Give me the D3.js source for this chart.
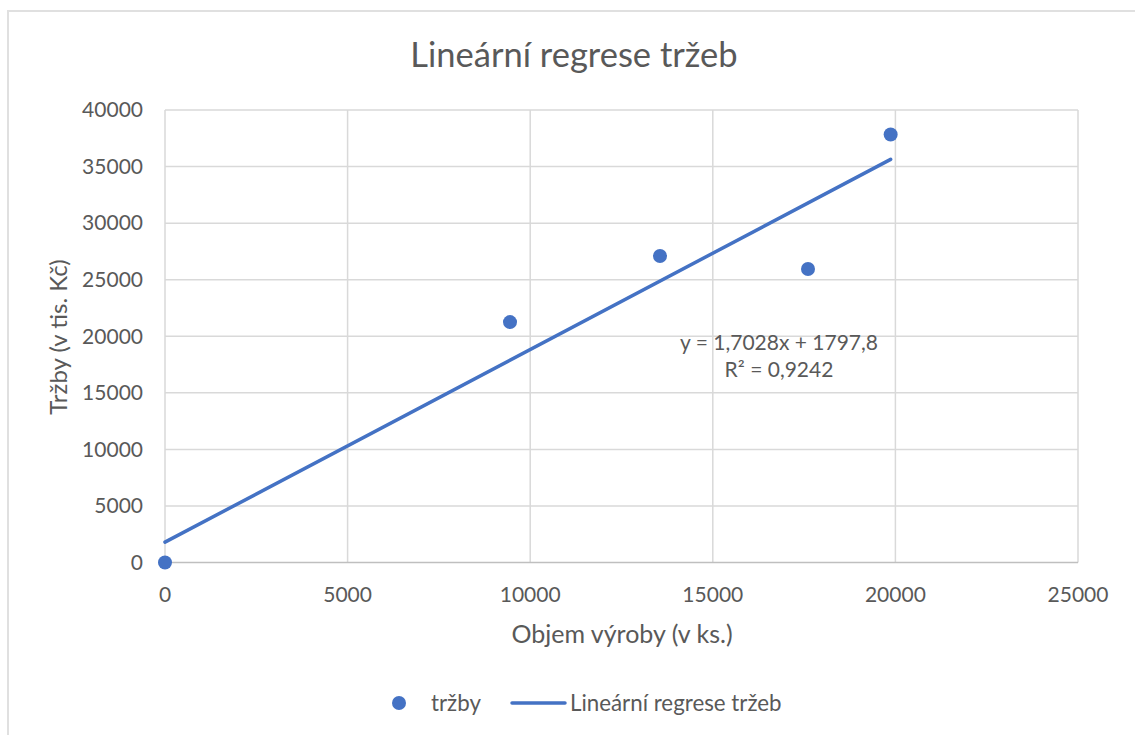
<!DOCTYPE html>
<html>
<head>
<meta charset="utf-8">
<script src="https://cdn.jsdelivr.net/npm/d3@7"></script>
<style>
  body { margin: 0; background: #fff; }
  svg { display: block; font-family: Lato, "Open Sans", sans-serif; }
</style>
</head>
<body>
<div id="chart"></div>
<script>
// data
const objem = [0, 9447, 13554, 17607, 19870];
const trzby = [0, 21250, 27100, 25950, 37830];
const slope = 1.7028;
const intercept = 1797.8;
const xTicks = [0, 5000, 10000, 15000, 20000, 25000];
const yTicks = [0, 5000, 10000, 15000, 20000, 25000, 30000, 35000, 40000];
const eqLines = ["y = 1,7028x + 1797,8", "R² = 0,9242"];

const W = 1135, H = 735;
const plot = { left: 165, right: 1078, top: 110, bottom: 562.5 };
const textColor = "#595959";
const blue = "#4472c4";

const svg = d3.select("#chart").append("svg")
    .attr("width", W)
    .attr("height", H);

// chart border
svg.append("rect")
    .attr("x", 8).attr("y", 11)
    .attr("width", W + 20).attr("height", H + 20)
    .attr("fill", "#fff")
    .attr("stroke", "#e0e0e0")
    .attr("stroke-width", 2);

const x = d3.scaleLinear().domain([0, 25000]).range([plot.left, plot.right]);
const y = d3.scaleLinear().domain([0, 40000]).range([plot.bottom, plot.top]);

// gridlines
svg.append("g")
    .selectAll("line.h")
    .data(yTicks.filter(d => d !== 0))
    .join("line")
    .attr("x1", plot.left).attr("x2", plot.right)
    .attr("y1", d => y(d)).attr("y2", d => y(d))
    .attr("stroke", "#d9d9d9")
    .attr("stroke-width", 1.5);

svg.append("g")
    .selectAll("line.v")
    .data(xTicks)
    .join("line")
    .attr("y1", plot.top).attr("y2", plot.bottom)
    .attr("x1", d => x(d)).attr("x2", d => x(d))
    .attr("stroke", "#d9d9d9")
    .attr("stroke-width", 1.5);

// x axis baseline
svg.append("line")
    .attr("x1", plot.left).attr("x2", plot.right)
    .attr("y1", y(0)).attr("y2", y(0))
    .attr("stroke", "#bfbfbf")
    .attr("stroke-width", 1.5);

// tick labels
svg.append("g")
    .selectAll("text")
    .data(yTicks)
    .join("text")
    .attr("x", 143)
    .attr("y", d => y(d))
    .attr("dy", "0.35em")
    .attr("text-anchor", "end")
    .attr("font-size", 21)
    .attr("fill", textColor)
    .text(d => d);

svg.append("g")
    .selectAll("text")
    .data(xTicks)
    .join("text")
    .attr("x", d => x(d))
    .attr("y", 595)
    .attr("dy", "0.35em")
    .attr("text-anchor", "middle")
    .attr("font-size", 21)
    .attr("fill", textColor)
    .text(d => d);

// titles
svg.append("text")
    .attr("x", 574).attr("y", 55)
    .attr("dy", "0.35em")
    .attr("text-anchor", "middle")
    .attr("font-size", 34.5)
    .attr("fill", textColor)
    .text("Lineární regrese tržeb");

svg.append("text")
    .attr("x", 622).attr("y", 634)
    .attr("dy", "0.35em")
    .attr("text-anchor", "middle")
    .attr("font-size", 25)
    .attr("fill", textColor)
    .text("Objem výroby (v ks.)");

svg.append("text")
    .attr("transform", "translate(59,337) rotate(-90)")
    .attr("dy", "0.35em")
    .attr("text-anchor", "middle")
    .attr("font-size", 24)
    .attr("fill", textColor)
    .text("Tržby (v tis. Kč)");

// regression line
const xMin = d3.min(objem), xMax = d3.max(objem);
svg.append("line")
    .attr("x1", x(xMin)).attr("y1", y(slope * xMin + intercept))
    .attr("x2", x(xMax)).attr("y2", y(slope * xMax + intercept))
    .attr("stroke", blue)
    .attr("stroke-width", 3.5)
    .attr("stroke-linecap", "round");

// points
svg.append("g")
    .selectAll("circle")
    .data(objem.map((v, i) => [v, trzby[i]]))
    .join("circle")
    .attr("cx", d => x(d[0]))
    .attr("cy", d => y(d[1]))
    .attr("r", 7)
    .attr("fill", blue);

// equation label
svg.append("g")
    .selectAll("text")
    .data(eqLines)
    .join("text")
    .attr("x", 779)
    .attr("y", (d, i) => 343 + i * 26.5)
    .attr("dy", "0.35em")
    .attr("text-anchor", "middle")
    .attr("font-size", 21)
    .attr("fill", textColor)
    .text(d => d);

// legend
const legend = svg.append("g").attr("font-size", 22.3).attr("fill", textColor);
legend.append("circle")
    .attr("cx", 399).attr("cy", 703).attr("r", 7)
    .attr("fill", blue);
legend.append("text")
    .attr("x", 431).attr("y", 703).attr("dy", "0.35em")
    .text("tržby");
legend.append("line")
    .attr("x1", 512).attr("x2", 565)
    .attr("y1", 703).attr("y2", 703)
    .attr("stroke", blue)
    .attr("stroke-width", 3.5)
    .attr("stroke-linecap", "round");
legend.append("text")
    .attr("x", 570).attr("y", 703).attr("dy", "0.35em")
    .text("Lineární regrese tržeb");
</script>
</body>
</html>
